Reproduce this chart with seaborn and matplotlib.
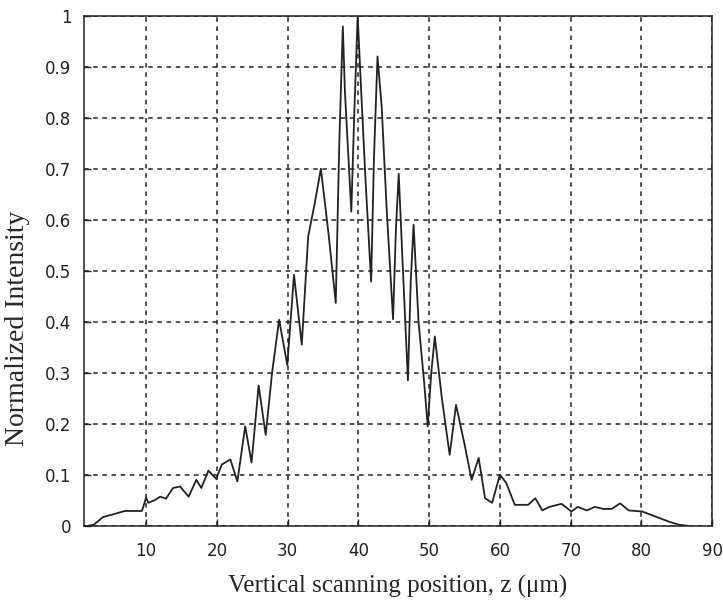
import matplotlib
matplotlib.use("Agg")
import matplotlib.pyplot as plt
import pandas as pd
import seaborn as sns

# scanning position (um) and normalized intensity
z_pos = [1.8, 2.6, 3.9, 5.5, 7.0, 9.4, 10.0, 10.3, 11.2, 12.0, 12.8, 13.8, 14.8,
         16.0, 17.1, 17.8, 18.8, 19.9, 20.7, 21.9, 22.9, 24.0, 24.9, 25.9, 26.9,
         27.8, 28.8, 29.95, 30.9, 32.0, 32.9, 33.8, 34.7, 35.8, 36.8, 37.3, 37.8,
         38.1, 38.6, 39.0, 39.4, 39.9, 40.4, 41.0, 41.8, 42.2, 42.7, 43.3, 44.0,
         44.9, 45.3, 45.7, 46.3, 47.0, 47.4, 47.8, 48.5, 49.3, 49.8, 50.3, 50.8,
         51.8, 52.9, 53.8, 55.0, 56.0, 57.0, 57.9, 58.9, 60.0, 60.9, 62.1, 64.0,
         65.0, 66.0, 67.0, 68.7, 70.1, 71.0, 72.3, 73.4, 74.6, 75.8, 77.0, 78.2,
         80.1, 82.0, 83.9, 85.3, 86.5]
intensity = [0.0, 0.002, 0.017, 0.023, 0.029, 0.029, 0.055, 0.045, 0.050, 0.057,
             0.053, 0.074, 0.077, 0.057, 0.090, 0.074, 0.108, 0.092, 0.120, 0.130,
             0.087, 0.195, 0.124, 0.275, 0.178, 0.30, 0.404, 0.315, 0.492, 0.355,
             0.567, 0.63, 0.700, 0.57, 0.437, 0.75, 0.979, 0.85, 0.72, 0.616, 0.80,
             1.0, 0.85, 0.68, 0.479, 0.72, 0.920, 0.82, 0.62, 0.405, 0.58, 0.690,
             0.50, 0.285, 0.48, 0.590, 0.40, 0.28, 0.195, 0.30, 0.371, 0.25, 0.139,
             0.237, 0.16, 0.090, 0.133, 0.054, 0.045, 0.100, 0.084, 0.041, 0.041,
             0.054, 0.030, 0.037, 0.043, 0.028, 0.037, 0.030, 0.037, 0.033, 0.033,
             0.044, 0.030, 0.028, 0.018, 0.008, 0.002, 0.0]

x_ticks = [10, 20, 30, 40, 50, 60, 70, 80, 90]
y_ticks = [0, 0.1, 0.2, 0.3, 0.4, 0.5, 0.6, 0.7, 0.8, 0.9, 1]
y_labels = ["0", "0.1", "0.2", "0.3", "0.4", "0.5", "0.6", "0.7", "0.8", "0.9", "1"]

df = pd.DataFrame({"z": z_pos, "I": intensity})

sns.set_style("ticks")
plt.rcParams["font.family"] = ["Liberation Sans Narrow", "DejaVu Sans"]
plt.rcParams["xtick.direction"] = "in"
plt.rcParams["ytick.direction"] = "in"

fig = plt.figure(figsize=(7.23, 6.05), dpi=100)
ax = fig.add_axes([0.116, 0.131, 0.869, 0.843])

sns.lineplot(data=df, x="z", y="I", estimator=None, color="#222222",
             linewidth=1.3, ax=ax)

ax.set_xlim(1.2, 90)
ax.set_ylim(0, 1)
ax.set_xticks(x_ticks)
ax.set_yticks(y_ticks)
ax.set_yticklabels(y_labels)
ax.tick_params(labelsize=12, length=5, width=1, colors="#222222")
ax.tick_params(axis="x", pad=12)
ax.tick_params(axis="y", pad=9)
ax.grid(True, color="#222222", linestyle=(0, (3, 3)), linewidth=1.1)
for s in ax.spines.values():
    s.set_visible(True)
    s.set_color("#222222")
    s.set_linewidth(1.1)

serif = ["Liberation Serif", "DejaVu Serif"]
ax.set_xlabel("Vertical scanning position, z (\u03bcm)", fontsize=18, family=serif)
ax.set_ylabel("Normalized Intensity", fontsize=20, family=serif)
ax.xaxis.set_label_coords(0.5, -0.097)
ax.yaxis.set_label_coords(-0.086, 0.388)

fig.savefig("out.png", dpi=100)
